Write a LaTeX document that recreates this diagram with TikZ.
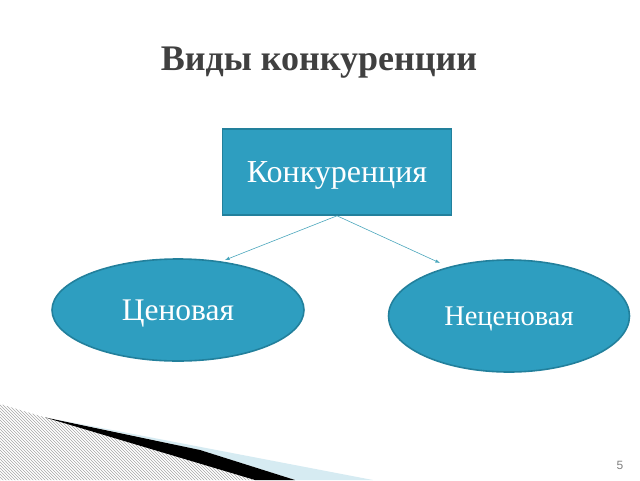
\documentclass[tikz,border=0pt]{standalone}
\usepackage{fontspec}
\setmainfont{Liberation Serif}
\setsansfont{Liberation Sans}
\usetikzlibrary{shapes.geometric,patterns}
\definecolor{mainteal}{HTML}{2E9EC0}
\definecolor{tealdark}{HTML}{22809C}
\definecolor{titlegray}{HTML}{404040}
\definecolor{arrowteal}{HTML}{4AA6BC}
\definecolor{paleblue}{HTML}{D6EBF2}
\tikzstyle{mainbox} = [draw=tealdark, fill=mainteal, line width=1.6pt,
    rectangle, minimum width=229pt, minimum height=86pt, text=white,
    font=\fontsize{32}{36}\selectfont, text height=21pt, text depth=0pt]
\tikzstyle{kindoval} = [draw=tealdark, fill=mainteal, line width=1.6pt,
    ellipse, text=white, text depth=0pt]
\tikzstyle{link} = [draw=arrowteal, line width=0.6pt, -latex]

\begin{document}
\begin{tikzpicture}[x=1pt, y=-1pt]
\useasboundingbox (0,0) rectangle (640,480);
% corner decoration
\fill[pattern=north west lines, pattern color=gray!70] (0,404) -- (255,480) -- (0,480) -- cycle;
\fill[paleblue] (60,420) -- (373,480) -- (295,480) -- (200,450) -- cycle;
\fill[black] (45,417.4) -- (200,450) -- (295,480) -- (255,480) -- cycle;
% title
\node[font=\bfseries\fontsize{36}{40}\selectfont, text=titlegray] (title) at (319,63) {Виды конкуренции};
% boxes
\node[mainbox] (comp) at (337,172) {Конкуренция};
\node[kindoval, minimum width=252pt, minimum height=102pt, text height=21pt,
    font=\fontsize{31.5}{34}\selectfont] (price) at (178,310) {Ценовая};
\node[kindoval, minimum width=241pt, minimum height=112pt, text height=19pt,
    font=\fontsize{28.5}{32}\selectfont] (nonprice) at (509,316) {Неценовая};
\coordinate (priceend) at (225,260);
\coordinate (nonpriceend) at (440,263);
\draw[link] (comp.south) -- (priceend);
\draw[link] (comp.south) -- (nonpriceend);
% page number
\node[font=\sffamily\fontsize{12}{14}\selectfont, text=gray] (page) at (620,465) {5};
\end{tikzpicture}
\end{document}
